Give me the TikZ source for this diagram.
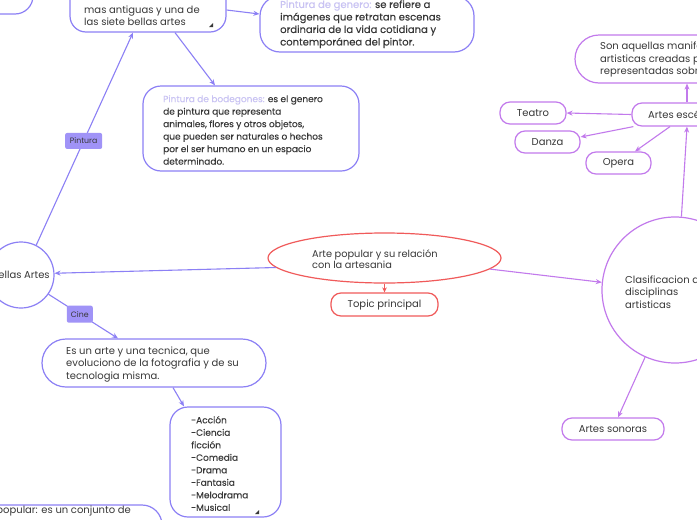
\documentclass[tikz,border=0pt]{standalone}
\usepackage{fontspec}
\setmainfont{Poppins}
\newfontfamily\medf[FakeBold=0.2]{Poppins}
\usetikzlibrary{arrows.meta,shapes.geometric}
\definecolor{bl}{HTML}{8C80F5}
\definecolor{blfill}{HTML}{A093F7}
\definecolor{vi}{HTML}{C27AEC}
\definecolor{rd}{HTML}{F05A5A}
\definecolor{light}{HTML}{C9C3F3}
\definecolor{txt}{HTML}{383838}
\tikzset{
  txtnode/.style={font=\fontsize{10}{12.5}\selectfont, text=txt, align=left, inner sep=0pt},
  smalltxt/.style={font=\fontsize{9}{12.5}\selectfont},
  bbox/.style={draw=bl, line width=1.2pt, fill=white, inner sep=0pt},
  vbox/.style={draw=vi, line width=1.2pt, fill=white, inner sep=0pt, rounded corners=10pt, minimum height=22pt, font=\fontsize{10}{12.5}\selectfont, text=txt},
  rbox/.style={draw=rd, line width=1.2pt, fill=white, inner sep=0pt},
  lbl/.style={fill=blfill, rounded corners=2pt, inner sep=0pt, font=\fontsize{7.8}{9}\selectfont, text=txt},
  barr/.style={draw=bl, line width=1.1pt, -{Stealth[length=6pt,width=5pt]}},
  varr/.style={draw=vi, line width=1.1pt, -{Stealth[length=6pt,width=5pt]}},
  rarr/.style={draw=rd, line width=1.1pt, -{Stealth[length=5pt,width=4.5pt]}},
}
\begin{document}
\begin{tikzpicture}[x=1pt,y=-1pt]
\useasboundingbox (0,0) rectangle (697,520);
\fill[white] (0,0) rectangle (697,520);

% ---- boxes (blue side)
\node[bbox, minimum width=120pt, minimum height=60pt, rounded corners=18pt] (tl) at (-27,-16) {};
\node[bbox, minimum width=156pt, minimum height=62pt, rounded corners=16pt] (pint) at (148,1) {};
\node[txtnode, anchor=west] (pintt) at (84,15.5) {mas antiguas y una de\\las siete bellas artes};
\node[bbox, minimum width=214pt, minimum height=56pt, rounded corners=20pt] (gen) at (367,24) {};
\node[txtnode, anchor=west] (gent) at (280,24.2) {\medf\textcolor{light}{Pintura de genero:} se refiere a\\\medf imágenes que retratan escenas\\\medf ordinaria de la vida cotidiana y\\\medf contemporánea del pintor.};
\node[bbox, minimum width=216pt, minimum height=85pt, rounded corners=18pt] (bod) at (251,128.5) {};
\node[txtnode, smalltxt, anchor=west] (bodt) at (163,130) {\medf\textcolor{light}{Pintura de bodegones:} es el genero\\\medf de pintura que representa\\\medf animales, flores y otros objetos,\\\medf que pueden ser naturales o hechos\\\medf por el ser humano en un espacio\\\medf determinado.};
\node[bbox, circle, minimum size=66pt, font=\fontsize{10}{12.5}\selectfont, text=txt] (bellas) at (21,275) {Bellas Artes};
\node[bbox, minimum width=224pt, minimum height=48pt, rounded corners=24pt] (esun) at (154,363) {};
\node[txtnode, anchor=west] (esunt) at (66,364.5) {Es un arte y una tecnica, que\\evoluciono de la fotografia y de su\\tecnologia misma.};
\node[bbox, minimum width=111pt, minimum height=110pt, rounded corners=18pt] (genres) at (225.5,462) {};
\node[txtnode, smalltxt, anchor=west] (genrest) at (191,463.5) {\medf -Acción\\\medf -Ciencia\\\medf ficción\\\medf -Comedia\\\medf -Drama\\\medf -Fantasia\\\medf -Melodrama\\\medf -Musical};
\node[bbox, minimum width=200pt, minimum height=70pt, rounded corners=20pt] (bot) at (62,540) {};
\node[txtnode, anchor=base east] (bott) at (131,513.5) {Arte popular: es un conjunto de};

% resize marks
\fill[txt] (209,27) -- (213,27) -- (213,23) -- cycle;
\fill[txt] (255,514) -- (259,514) -- (259,510) -- cycle;

% ---- central topic
\node[draw=rd, line width=1.2pt, fill=white, ellipse, minimum width=233pt, minimum height=50pt, inner sep=0pt] (main) at (384.5,258) {};
\node[txtnode, anchor=west, font=\fontsize{9.8}{11}\selectfont] (maint) at (312,259) {Arte popular y su relación\\con la artesania};
\node[rbox, rounded corners=10pt, minimum width=107pt, minimum height=23pt, font=\fontsize{10}{12.5}\selectfont, text=txt] (topic) at (384.5,304.5) {Topic principal};

% ---- violet side
\node[draw=vi, line width=1.2pt, fill=white, circle, minimum size=146pt, inner sep=0pt] (clas) at (675,290) {};
\node[txtnode, anchor=west] (clast) at (625,292) {Clasificacion de\\disciplinas\\artisticas};
\node[vbox, minimum width=200pt, minimum height=48pt, rounded corners=24pt] (son) at (675,59) {};
\node[txtnode, anchor=west] (sont) at (600,59.7) {Son aquellas manifestaciones\\artisticas creadas para ser\\representadas sobre un escenario};
\node[vbox, minimum width=110pt, minimum height=23pt] (esc) at (687,114.5) {};
\node[txtnode, anchor=west] (esct) at (648,114.5) {Artes escénicas};
\node[vbox, minimum width=66pt] (teatro) at (533,113) {Teatro};
\node[vbox, minimum width=65pt] (danza) at (547.5,142) {Danza};
\node[vbox, minimum width=65pt] (opera) at (618.5,163) {Opera};
\node[vbox, minimum width=102pt] (sonoras) at (613,429) {Artes sonoras};

% ---- connectors
\draw[barr] (bellas.63) -- node[lbl, minimum width=37pt, minimum height=16pt, pos=0.49] (lpint) {Pintura} ([xshift=-15pt]pint.south);
\draw[barr] ([yshift=-9pt]pint.east) -- ([yshift=10pt]gen.west);
\draw[barr] ([xshift=27pt]pint.south) -- ([xshift=-36pt]bod.north);
\draw[barr] (main.185) -- (bellas.3);
\draw[barr] (bellas.-35) -- node[lbl, minimum width=26pt, minimum height=17pt, pos=0.45] (lcine) {Cine} ([xshift=-36pt]esun.north);
\draw[barr] ([xshift=19pt]esun.south) -- ([xshift=-41.5pt]genres.north);
\draw[rarr] (main.south) -- (topic.north);
\draw[varr] (main.-6.5) -- (clas.174);
\draw[varr] (clas.85) -- (esc.south);
\draw[varr] (esc.north) -- (esc.north |- son.south);
\draw[varr] (esc.west) -- (teatro.east);
\draw[varr] ([xshift=2pt]esc.south west) -- ([yshift=5pt]danza.east);
\draw[varr] ([xshift=-17pt]esc.south) -- ([xshift=16.5pt]opera.north);
\draw[varr] (clas.246) -- ([xshift=5pt]sonoras.north);
\end{tikzpicture}
\end{document}
